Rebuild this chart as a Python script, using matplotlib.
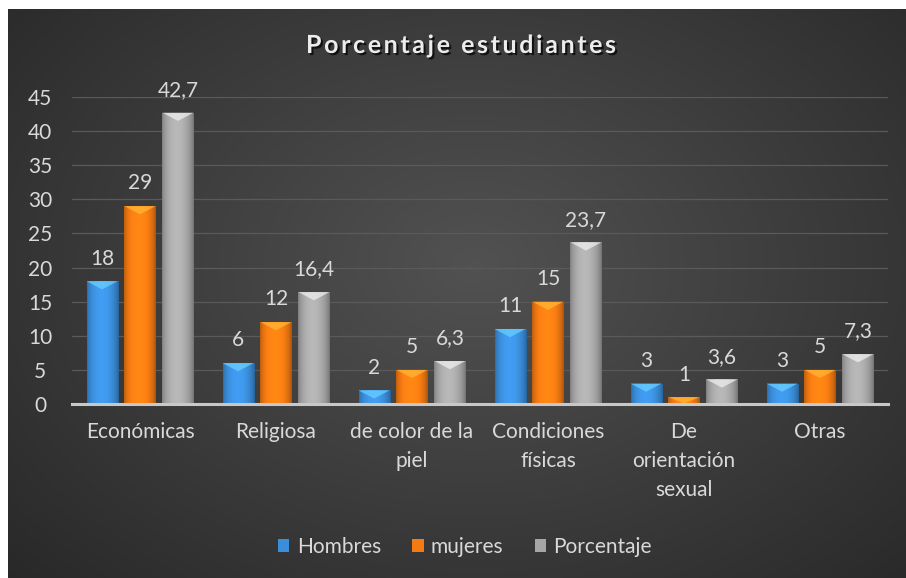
import numpy as np
import matplotlib
matplotlib.use("Agg")
import matplotlib.pyplot as plt
from matplotlib.patches import Polygon
from matplotlib.colors import to_rgb
import matplotlib.patheffects as pe

categories = ["Económicas", "Religiosa", "de color de la\npiel", "Condiciones\nfísicas",
              "De\norientación\nsexual", "Otras"]
series_names = ["Hombres", "mujeres", "Porcentaje"]
hombres = [18, 6, 2, 11, 3, 3]
mujeres = [29, 12, 5, 15, 1, 5]
porcentaje = [42.7, 16.4, 6.3, 23.7, 3.6, 7.3]
series_values = [hombres, mujeres, porcentaje]
colors = ["#3b8edb", "#f47a12", "#a6a6a6"]
yticks = [0, 5, 10, 15, 20, 25, 30, 35, 40, 45]
title = "Porcentaje estudiantes"

W, H = 906, 578
fig = plt.figure(figsize=(W / 100, H / 100), dpi=100, facecolor="white")
plt.rcParams['font.family'] = ['Lato', 'DejaVu Sans']
txtc = "#d9d9d9"
FS = 15

# background with radial gradient
bg = fig.add_axes([8 / W, 0, 1 - 8 / W, 1 - 9 / H])
bg.set_axis_off()
yy, xx = np.mgrid[0:1:300j, 0:1:450j]
r = np.sqrt(((xx - 0.52) / 0.75) ** 2 + ((yy - 0.45) / 0.85) ** 2)
v = np.clip(0.32 - 0.17 * r, 0.15, 0.32)
bg.imshow(np.dstack([v, v, v]), aspect="auto", extent=[0, 1, 0, 1], interpolation="bicubic")

ax = fig.add_axes([72 / W, 1 - 404 / H, (888 - 72) / W, (404 - 97) / H])
ax.set_facecolor("none")
n = len(categories)
x = np.arange(n)
bw = 0.228
step = 0.279

def fmt(v):
    return ("%g" % v).replace(".", ",")

for i, (name, vals, c) in enumerate(zip(series_names, series_values, colors)):
    xs = x + (i - 1) * step
    bars = ax.bar(xs, vals, width=bw, color=c, label=name, zorder=3, edgecolor="none")
    base = np.array(to_rgb(c))
    for rect, val in zip(bars, vals):
        x0 = rect.get_x(); w = rect.get_width(); h = rect.get_height()
        t = np.linspace(0, 1, 64)
        shade = 0.75 + 0.4 * np.sin(np.pi * t) ** 0.6
        shade = shade - 0.08 * t
        img = np.clip(base[None, :] * shade[:, None], 0, 1)[None, :, :]
        im = ax.imshow(img, extent=[x0, x0 + w, 0, h], aspect="auto", zorder=3.5,
                       interpolation="bicubic")
        im.set_clip_path(rect)
        d = min(1.2, h * 0.9)
        light = np.clip(base * 1.25 + 0.12, 0, 1)
        ax.add_patch(Polygon([(x0, h), (x0 + w, h), (x0 + w / 2, h - d)], closed=True,
                             facecolor=light, edgecolor="none", alpha=0.75, zorder=4))
        ax.annotate(fmt(val), (x0 + w / 2, h), xytext=(0, 12), textcoords="offset points",
                    ha="center", va="baseline", fontsize=FS, color=txtc, zorder=5)

ax.set_xlim(-0.5, n - 0.5)
ax.set_ylim(0, 45)
ax.set_yticks(yticks)
ax.set_yticklabels([str(t) for t in yticks], fontsize=FS, color=txtc)
ax.set_xticks(x)
ax.set_xticklabels(categories, fontsize=FS, color=txtc, linespacing=1.55, va="top")
ax.tick_params(axis="both", length=0)
ax.tick_params(axis="x", pad=13)
ax.tick_params(axis="y", pad=23)
for lab in ax.get_yticklabels():
    lab.set_horizontalalignment("center")
ax.grid(axis="y", color="#5a5a5a", linewidth=0.9, zorder=0)
for s in ["top", "right", "left"]:
    ax.spines[s].set_visible(False)
ax.spines["bottom"].set_color("#c8c8c8")
ax.spines["bottom"].set_linewidth(2.2)
ax.spines["bottom"].set_zorder(6)

# title: letter-spaced, bold, with shadow
tfs = 18
renderer = fig.canvas.get_renderer()
effects = [pe.SimplePatchShadow(offset=(1.5, -1.5), shadow_rgbFace="black", alpha=0.7), pe.Normal()]
chars = []
widths = []
for ch in title:
    t = fig.text(0, 1 - 53 / H, ch if ch != " " else "", ha="left", va="baseline",
                 fontsize=tfs, fontweight="bold", color="#ececec", path_effects=effects)
    chars.append(t)
    widths.append(t.get_window_extent(renderer).width if ch != " " else 0.0)
target = 310.0
space_w = 6.0
gap = (target - sum(widths) - space_w) / (len(title) - 1)
xpix = 461 - target / 2
for ch, t, wd in zip(title, chars, widths):
    t.set_x(xpix / W)
    xpix += (wd if ch != " " else space_w) + gap

leg = fig.legend(loc="center", bbox_to_anchor=(465 / W, 1 - 547 / H), ncol=3, frameon=False,
                 fontsize=FS, handlelength=0.55, handleheight=0.55, handletextpad=0.35,
                 columnspacing=1.5)
for t in leg.get_texts():
    t.set_color(txtc)

fig.savefig("out.png", dpi=100, facecolor="white")
